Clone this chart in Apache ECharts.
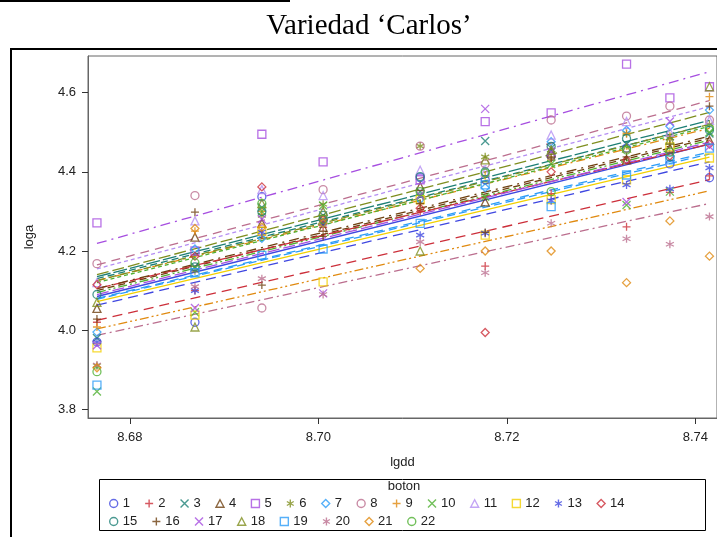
<!DOCTYPE html>
<html>
<head>
<meta charset="utf-8">
<script src="https://cdn.jsdelivr.net/npm/echarts@6/dist/echarts.min.js"></script>
<style>
html,body{margin:0;padding:0;background:#fff;}
#chart{width:717px;height:537px;}
</style>
</head>
<body>
<div id="chart"></div>
<script>
// ---- data ----
const xValues = [8.6765, 8.6869, 8.6940, 8.7005, 8.7108, 8.7177, 8.7247, 8.7327, 8.7373, 8.7415];
const groups = ['1','2','3','4','5','6','7','8','9','10','11','12','13','14','15','16','17','18','19','20','21','22'];
const loga = [
  [3.970, 4.020, 4.337, 4.280, 4.385, 4.380, 4.440, 4.460, 4.420, 4.385],
  [4.020, 4.100, 4.240, 4.260, 4.300, 4.162, 4.345, 4.261, 4.348, 4.390],
  [3.980, 4.160, 4.310, 4.290, 4.350, 4.478, 4.460, 4.470, 4.490, 4.497],
  [4.055, 4.235, 4.270, 4.260, 4.363, 4.324, 4.448, 4.430, 4.460, 4.480],
  [4.271, 4.200, 4.495, 4.425, 4.380, 4.527, 4.549, 4.672, 4.587, 4.615],
  [3.910, 4.150, 4.290, 4.318, 4.465, 4.438, 4.455, 4.497, 4.485, 4.520],
  [3.995, 4.205, 4.232, 4.270, 4.330, 4.360, 4.476, 4.505, 4.515, 4.556],
  [4.168, 4.340, 4.056, 4.355, 4.465, 4.420, 4.531, 4.541, 4.566, 4.531],
  [4.008, 4.250, 4.300, 4.280, 4.320, 4.390, 4.430, 4.497, 4.490, 4.590],
  [3.845, 4.045, 4.300, 4.315, 4.340, 4.337, 4.420, 4.316, 4.350, 4.500],
  [4.120, 4.276, 4.355, 4.340, 4.404, 4.400, 4.493, 4.527, 4.500, 4.530],
  [3.955, 4.038, 4.250, 4.122, 4.330, 4.240, 4.330, 4.380, 4.463, 4.435],
  [3.970, 4.100, 4.248, 4.270, 4.240, 4.245, 4.327, 4.367, 4.357, 4.410],
  [4.115, 4.187, 4.362, 4.280, 4.308, 3.994, 4.400, 4.430, 4.440, 4.470],
  [4.090, 4.160, 4.300, 4.290, 4.388, 4.400, 4.464, 4.484, 4.438, 4.505],
  [4.028, 4.298, 4.114, 4.237, 4.320, 4.247, 4.435, 4.438, 4.470, 4.566],
  [3.962, 4.056, 4.280, 4.093, 4.340, 4.559, 4.450, 4.324, 4.527, 4.464],
  [4.070, 4.008, 4.320, 4.300, 4.200, 4.430, 4.455, 4.460, 4.480, 4.615],
  [3.861, 4.145, 4.189, 4.205, 4.270, 4.367, 4.312, 4.392, 4.430, 4.460],
  [3.912, 4.110, 4.130, 4.090, 4.223, 4.145, 4.270, 4.231, 4.217, 4.287],
  [3.905, 4.257, 4.260, 4.270, 4.156, 4.200, 4.200, 4.120, 4.276, 4.187],
  [3.895, 4.170, 4.320, 4.280, 4.350, 4.397, 4.350, 4.455, 4.450, 4.510]
];
// fitted line values at first and last lgdd
const fitStart = [4.085, 4.025, 4.135, 4.100, 4.219, 4.140, 4.078, 4.165, 4.125, 4.095, 4.155, 4.072, 4.063, 4.105, 4.130, 4.105, 4.090, 4.125, 4.080, 3.987, 4.003, 4.120];
const fitEnd   = [4.470, 4.380, 4.530, 4.485, 4.653, 4.550, 4.445, 4.580, 4.510, 4.480, 4.565, 4.437, 4.425, 4.470, 4.520, 4.490, 4.475, 4.520, 4.450, 4.320, 4.352, 4.515];
const yTicks = [3.8, 4.0, 4.2, 4.4, 4.6];
const xTicks = [8.68, 8.70, 8.72, 8.74];

// ---- styles ----
const colorCycle = ['#3f47e0','#cc2f3a','#1d7f76','#6e4010','#a64ee0','#7f8e1f','#2c9cf8','#bb6e8e','#e08a10','#4fb032','#b48ef3','#f2d000'];
const symbolCycle = [
  'path://M10,5A5,5,0,1,1,0,5A5,5,0,1,1,10,5Z',
  'path://M5,0L5,10M0,5L10,5',
  'path://M0.5,0.5L9.5,9.5M9.5,0.5L0.5,9.5',
  'path://M5,0.5L9.8,9.5L0.2,9.5Z',
  'path://M0.5,0.5L9.5,0.5L9.5,9.5L0.5,9.5Z',
  'path://M5,0L5,10M0.7,2.5L9.3,7.5M0.7,7.5L9.3,2.5',
  'path://M5,0L10,5L5,10L0,5Z'
];
const dashCycle = ['solid',[10,6],[14,3],[7,4],[10,5,2,5],[12,4],[8,4],[9,6],[9,4,2,4],[9,3,2,3,2,3],[4,3]];

const series = [];
groups.forEach((g, i) => {
  const c = colorCycle[i % 12];
  series.push({
    name: 'L' + g, type: 'line', silent: true, symbol: 'none', z: 2,
    data: [[xValues[0], fitStart[i]], [xValues[xValues.length - 1], fitEnd[i]]],
    lineStyle: {color: c, width: 1.3, type: dashCycle[i % 11]}
  });
});
groups.forEach((g, i) => {
  const c = colorCycle[i % 12];
  series.push({
    name: g, type: 'scatter', z: 3,
    symbol: symbolCycle[i % 7], symbolSize: 8,
    itemStyle: {color: 'rgba(0,0,0,0)', borderColor: c, borderWidth: 1.3},
    data: xValues.map((x, j) => [x, loga[i][j]])
  });
});

const font = "'Liberation Sans', Arial, sans-serif";
const legendCommon = {
  orient: 'horizontal', left: 104, itemWidth: 8, itemHeight: 8, itemGap: 14.5,
  itemStyle: {borderWidth: 1.4},
  textStyle: {fontFamily: font, fontSize: 13, color: '#222', width: 16},
  selectedMode: false
};

const chart = echarts.init(document.getElementById('chart'), null, {renderer: 'canvas'});
chart.setOption({
  animation: false,
  backgroundColor: '#fff',
  title: {
    text: 'Variedad ‘Carlos’', left: 364, textAlign: 'center', top: 7,
    textStyle: {fontFamily: "'Liberation Serif', 'Times New Roman', serif", fontSize: 29, fontWeight: 'normal', color: '#000'}
  },
  grid: {left: 88, top: 56, width: 630, height: 362, show: true, borderColor: '#666', borderWidth: 1, containLabel: false},
  xAxis: {
    type: 'value', min: 8.67555, max: 8.7423,
    name: 'lgdd', nameLocation: 'middle', nameGap: 38,
    nameTextStyle: {fontFamily: font, fontSize: 13, color: '#222'},
    axisLine: {show: true, lineStyle: {color: '#666'}},
    axisTick: {show: true, length: 6, lineStyle: {color: '#333'}, customValues: xTicks},
    axisLabel: {fontFamily: font, fontSize: 13, color: '#222', margin: 13, customValues: xTicks, formatter: v => v.toFixed(2)},
    splitLine: {show: false}
  },
  yAxis: {
    type: 'value', min: 3.778, max: 4.6927,
    name: 'loga', nameLocation: 'middle', nameGap: 52, nameRotate: 90,
    nameTextStyle: {fontFamily: font, fontSize: 13, color: '#222'},
    axisLine: {show: true, lineStyle: {color: '#666'}},
    axisTick: {show: true, length: 6, lineStyle: {color: '#333'}, customValues: yTicks},
    axisLabel: {fontFamily: font, fontSize: 13, color: '#222', margin: 12, customValues: yTicks, formatter: v => v.toFixed(1)},
    splitLine: {show: false}
  },
  legend: [
    Object.assign({}, legendCommon, {top: 492, data: groups.slice(0, 14)}),
    Object.assign({}, legendCommon, {top: 510, data: groups.slice(14)})
  ],
  graphic: [
    {type: 'line', shape: {x1: 0, y1: 1, x2: 290, y2: 1}, style: {stroke: '#000', lineWidth: 2}, silent: true},
    {type: 'rect', shape: {x: 11, y: 49, width: 800, height: 600}, style: {fill: 'none', stroke: '#000', lineWidth: 2}, silent: true, z: -1},
    {type: 'rect', shape: {x: 99.5, y: 479.5, width: 606, height: 51}, style: {fill: 'none', stroke: '#000', lineWidth: 1}, silent: true},
    {type: 'text', x: 404, y: 480, style: {text: 'boton', fontFamily: font, fontSize: 13, fill: '#222', textAlign: 'center'}, silent: true}
  ],
  series: series
});
</script>
</body>
</html>
